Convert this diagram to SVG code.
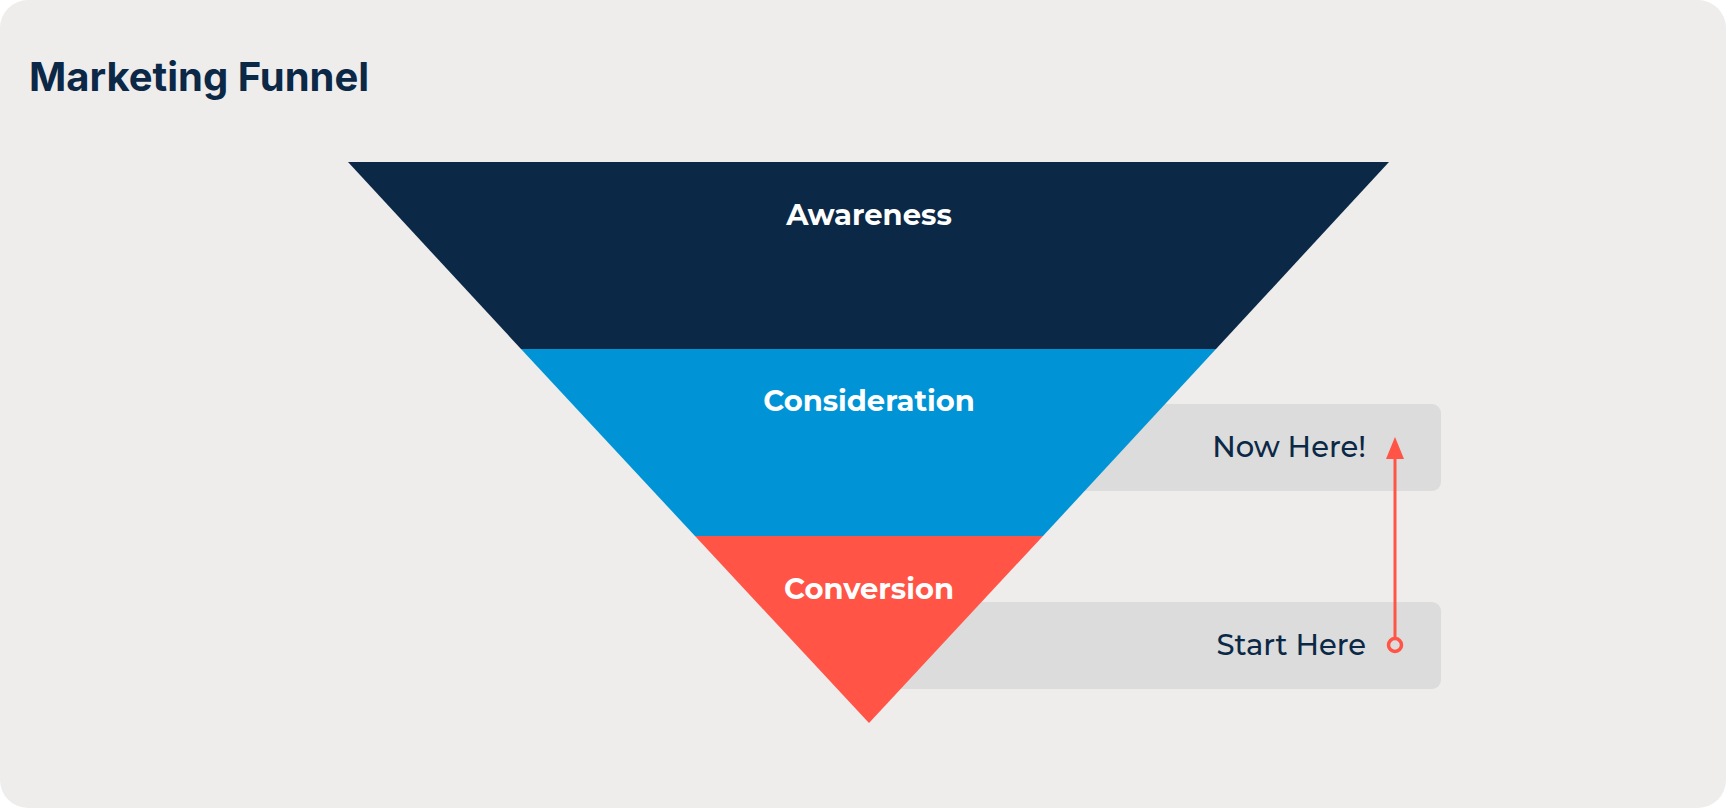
<svg xmlns="http://www.w3.org/2000/svg" width="1726" height="808" viewBox="0 0 1726 808">
<style>
.lbl{font-family:Montserrat,"Open Sans","Liberation Sans",sans-serif;font-weight:700;font-size:29px;fill:#fff;text-anchor:middle}
.tag{font-family:Montserrat,"Open Sans","Liberation Sans",sans-serif;font-weight:500;font-size:29px;fill:#0B2846;text-anchor:end}
.box{fill:#DBDCDB}
</style>
<rect x="0" y="0" width="1726" height="808" rx="28" fill="#EEEDEB"/>
<text x="29" y="91" font-family="Inter,'Liberation Sans',sans-serif" font-weight="700" font-size="40" fill="#0B2846">Marketing Funnel</text>
<g id="now-here"><rect class="box" x="1000" y="404" width="441" height="87" rx="9"/><text class="tag" x="1366" y="457">Now Here!</text></g>
<g id="start-here"><rect class="box" x="850" y="602" width="591" height="87" rx="9"/><text class="tag" x="1366" y="636" dy="19">Start Here</text></g>
<g id="awareness"><polygon points="348,162 1389,162 1216,349 521,349" fill="#0B2846"/><text class="lbl" x="869" y="225">Awareness</text></g>
<g id="consideration"><polygon points="521,349 1216,349 1043,536 695,536" fill="#0094D6"/><text class="lbl" x="869" y="411">Consideration</text></g>
<g id="conversion"><polygon points="695,536 1043,536 869,723" fill="#FF5446"/><text class="lbl" x="869" y="599">Conversion</text></g>
<g id="connectors">
<line x1="1395" y1="639" x2="1395" y2="458" stroke="#FF5446" stroke-width="3"/>
<polygon points="1395,437 1404,459 1386,459" fill="#FF5446"/>
<circle cx="1395" cy="645" r="6.5" fill="none" stroke="#FF5446" stroke-width="3.5"/>
</g>
</svg>
